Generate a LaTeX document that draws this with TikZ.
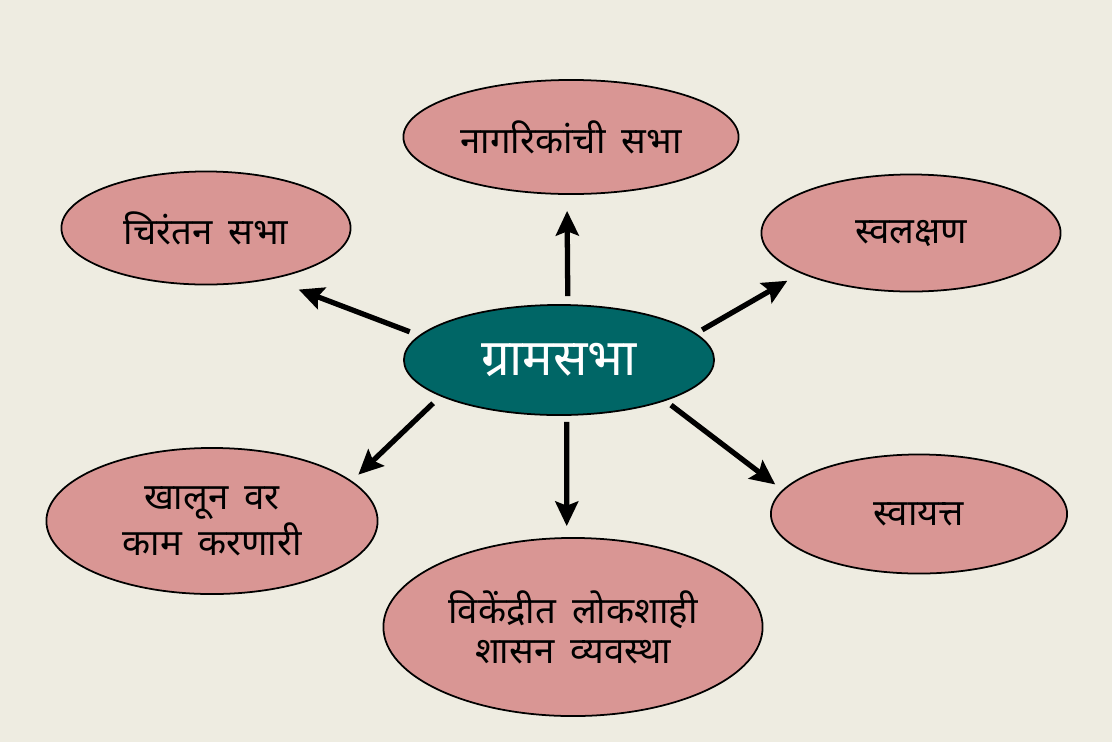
\documentclass[tikz,border=0pt]{standalone}
\usepackage{fontspec}
\newfontfamily\devfont[Script=Devanagari,WordSpace=1.7]{Noto Sans}
\usetikzlibrary{shapes.geometric,arrows.meta}
\definecolor{bgtan}{HTML}{EEECE1}
\definecolor{rosefill}{HTML}{D99694}
\definecolor{tealfill}{HTML}{006666}
\begin{document}
\begin{tikzpicture}[x=0.01cm,y=-0.01cm]
\tikzstyle{every node}+=[inner sep=0pt]
\tikzstyle{leaf}=[ellipse,draw=black,line width=0.5pt,fill=rosefill,align=center,font=\devfont\fontsize{10.4}{11.3}\selectfont]
\tikzstyle{hub}=[ellipse,draw=black,line width=0.5pt,fill=tealfill,text=white,font=\devfont\fontsize{14.5}{17}\selectfont]
\tikzstyle{arr}=[black,line width=1.5pt,-{Stealth[length=7pt,width=6.5pt,inset=1.2pt]}]
\fill [bgtan] (0,0) rectangle (1112,742);
\useasboundingbox (0,0) rectangle (1112,742);
\node [hub,minimum width=3.10cm,minimum height=1.10cm] (gram) at (559,360) {ग्रामसभा};
\node [leaf,minimum width=3.35cm,minimum height=1.14cm] (nagar) at (571,137) {नागरिकांची सभा};
\node [leaf,minimum width=2.89cm,minimum height=1.13cm] (chir) at (206,228) {चिरंतन सभा};
\node [leaf,minimum width=2.99cm,minimum height=1.17cm] (swal) at (911,233) {स्वलक्षण};
\node [leaf,minimum width=3.31cm,minimum height=1.46cm] (khal) at (212,521) {खालून वर\\काम करणारी};
\node [leaf,minimum width=3.79cm,minimum height=1.78cm] (vike) at (573,627) {विकेंद्रीत लोकशाही\\शासन व्यवस्था};
\node [leaf,minimum width=2.96cm,minimum height=1.19cm] (swayat) at (919,514) {स्वायत्त};
\draw [arr,shorten <=0.08cm,shorten >=0.16cm] (gram.81.7) -- (nagar.266);
\draw [arr,shorten <=0.10cm,shorten >=0.29cm] (gram.170) -- (chir.-38.5);
\draw [arr,shorten <=0.07cm,shorten >=0.15cm] (gram.11.6) -- (swal.-160.6);
\draw [arr,shorten <=0.10cm,shorten >=0.09cm] (gram.-163) -- (khal.16.2);
\draw [arr,shorten <=0.06cm,shorten >=0.11cm] (gram.-82.7) -- (vike.94.2);
\draw [arr,shorten <=0.07cm,shorten >=0.09cm] (gram.-21.3) -- (swayat.170);
\end{tikzpicture}
\end{document}
